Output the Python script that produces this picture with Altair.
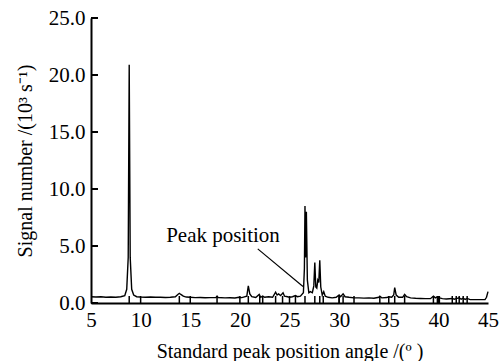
import altair as alt
import pandas as pd

# Spectrum (angle, signal in 10^3 s^-1)
angle = [5.0, 5.5, 6.0, 6.5, 7.0, 7.5, 8.0, 8.4, 8.6, 8.75, 8.85, 8.95, 9.1, 9.3, 9.6,
         10.0, 10.5, 11.0, 11.5, 12.0, 12.5, 13.0, 13.5, 13.75, 13.9, 14.05, 14.3, 14.6,
         15.0, 15.5, 16.0, 16.5, 17.0, 17.6, 17.7, 17.8, 18.5, 19.0, 19.5, 19.9, 20.2,
         20.7, 20.85, 21.0, 21.2, 21.6, 21.95, 22.1, 22.3, 22.5, 22.9, 23.3, 23.6, 23.75,
         23.9, 24.1, 24.35, 24.5, 24.8, 25.0, 25.3, 25.6, 25.8, 26.1, 26.4, 26.5, 26.56,
         26.62, 26.7, 26.8, 26.95, 27.1, 27.3, 27.45, 27.55, 27.65, 27.75, 27.85, 27.95,
         28.05, 28.15, 28.3, 28.45, 28.6, 28.9, 29.3, 29.7, 30.0, 30.15, 30.4, 30.6, 31.0,
         31.5, 32.0, 32.5, 33.0, 33.5, 34.0, 34.1, 34.3, 34.8, 35.0, 35.3, 35.5, 35.6,
         35.75, 36.0, 36.4, 36.6, 36.8, 37.2, 37.7, 38.2, 38.7, 39.2, 39.5, 39.7, 39.9,
         40.1, 40.4, 40.8, 41.4, 41.6, 41.8, 42.1, 42.3, 42.5, 42.7, 42.9, 43.2, 43.7,
         44.2, 44.7, 44.85, 45.0]
signal = [0.55, 0.52, 0.55, 0.50, 0.53, 0.50, 0.55, 0.65, 1.2, 4.0, 20.9, 4.0, 1.2, 0.7, 0.55,
          0.52, 0.50, 0.52, 0.50, 0.50, 0.48, 0.50, 0.55, 0.75, 0.85, 0.75, 0.6, 0.52,
          0.50, 0.47, 0.48, 0.46, 0.47, 0.48, 0.6, 0.48, 0.45, 0.46, 0.44, 0.5, 0.47,
          0.6, 1.5, 0.8, 0.55, 0.48, 0.75, 0.5, 0.6, 0.5, 0.55, 0.5, 0.95, 0.7,
          0.8, 0.65, 0.9, 0.6, 0.55, 0.5, 0.55, 0.65, 0.55, 0.6, 0.9, 3.0, 8.5,
          4.0, 8.0, 2.0, 0.9, 1.0, 0.9, 1.5, 3.55, 1.4, 1.3, 2.0, 1.8,
          3.75, 1.4, 0.7, 1.0, 0.6, 0.5, 0.45, 0.5, 0.7, 0.55, 0.8, 0.55, 0.5,
          0.45, 0.45, 0.43, 0.45, 0.42, 0.5, 0.6, 0.45, 0.48, 0.55, 0.5, 0.7, 1.35,
          0.7, 0.5, 0.5, 0.75, 0.55, 0.45, 0.42, 0.4, 0.38, 0.38, 0.6, 0.45, 0.55,
          0.45, 0.38, 0.35, 0.4, 0.33, 0.38, 0.45, 0.33, 0.42, 0.32, 0.4, 0.3, 0.3,
          0.3, 0.3, 0.5, 1.0]

# Standard peak positions (short vertical markers)
std_pos = [8.85, 13.9, 17.7, 20.85, 22.0, 22.3, 23.6, 24.3, 25.6, 26.56, 27.55,
           28.05, 28.4, 30.0, 30.4, 31.5, 34.1, 35.6, 36.6, 39.5, 39.9, 40.1, 41.4,
           41.8, 42.1, 42.5, 42.9]
x_ticks = [10, 15, 20, 25, 30, 35, 40]
y_ticks = [0, 5, 10, 15, 20, 25]
x_labels = [5, 10, 15, 20, 25, 30, 35, 40, 45]

# Annotation
note_text = ["Peak position"]
note_x = [18.3]
note_y = [5.9]
arrow_x = [21.8]
arrow_y = [4.75]
arrow_x2 = [26.36]
arrow_y2 = [1.45]

W, H = 397, 285
FONT = "Liberation Serif, Times New Roman, serif"
LFS = 21
TFS = 20
XTITLE = "Standard peak position angle /(º )"
YTITLE = "Signal number /(10³ s⁻¹)"

spec = pd.DataFrame({"angle": angle, "signal": signal})
std_df = pd.DataFrame({"angle": std_pos + x_ticks})
yt_df = pd.DataFrame({"signal": y_ticks})
note_df = pd.DataFrame({"angle": note_x, "signal": note_y, "t": note_text})
arrow_df = pd.DataFrame({"angle": arrow_x, "signal": arrow_y,
                         "angle2": arrow_x2, "signal2": arrow_y2})

xscale = alt.Scale(domain=[5, 45], nice=False, zero=False)
yscale = alt.Scale(domain=[0, 25], nice=False)

xaxis = alt.Axis(values=x_labels, format="d", title=XTITLE, labelFlush=False,
                 titleX=W / 2, titleY=48, titleBaseline="middle", labelPadding=6)
yaxis = alt.Axis(values=y_ticks, format=".1f", title=YTITLE, labelFlush=False,
                 titleX=-66, titleY=H / 2, titleAngle=-90,
                 titleBaseline="middle", titleAlign="center", labelPadding=6)

def X(field="angle"):
    return alt.X(f"{field}:Q", scale=xscale, axis=xaxis, title=XTITLE)

def Y(field="signal"):
    return alt.Y(f"{field}:Q", scale=yscale, axis=yaxis, title=YTITLE)

line = alt.Chart(spec).mark_line(color="black", strokeWidth=1.4).encode(
    x=X(), y=Y(),
)

std_rules = alt.Chart(std_df).mark_rule(color="black", strokeWidth=1.5).encode(
    x=X(),
    y=alt.value(H),
    y2=alt.value(H - 7),
)

y_tick_rules = alt.Chart(yt_df).mark_rule(color="black", strokeWidth=2).encode(
    y=Y(),
    x=alt.value(0),
    x2=alt.value(7),
)

note = alt.Chart(note_df).mark_text(font=FONT, fontSize=LFS, color="black",
                                    align="center", baseline="middle").encode(
    x=X(), y=Y(), text="t:N",
)

arrow = alt.Chart(arrow_df).mark_rule(color="black", strokeWidth=1.2).encode(
    x=X(), y=Y(), x2="angle2:Q", y2="signal2:Q",
)

chart = alt.layer(line, std_rules, y_tick_rules, arrow, note).properties(
    width=W, height=H,
    autosize=alt.AutoSizeParams(type="none"),
    padding={"left": 91, "top": 18, "right": 15, "bottom": 58},
).configure_view(stroke=None).configure_axis(
    grid=False, ticks=False, domainColor="black", domainWidth=2,
    labelFont=FONT, labelFontSize=LFS, labelColor="black",
    titleFont=FONT, titleFontSize=TFS, titleColor="black", titleFontWeight="normal",
)

chart.save("out.html", embed_options={"renderer": "svg", "actions": False})
